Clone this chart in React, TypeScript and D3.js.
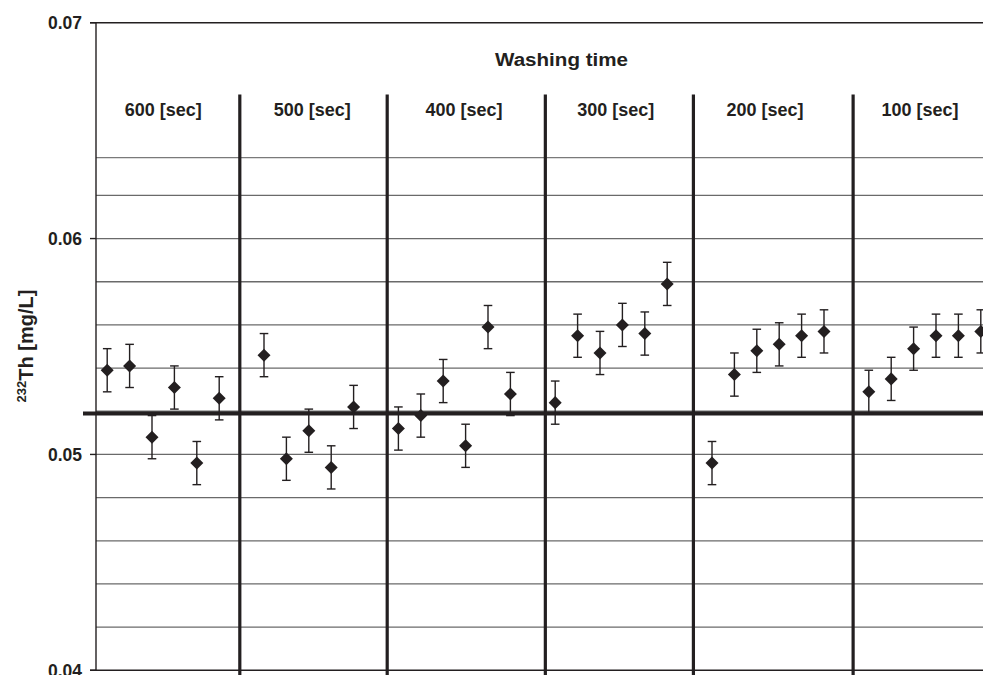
import React from "react";
import * as d3 from "d3";

// Measured 232Th concentrations, one array per washing time
const groupLabels = ["600 [sec]", "500 [sec]", "400 [sec]", "300 [sec]", "200 [sec]", "100 [sec]"];
const th600 = [0.0539, 0.0541, 0.0508, 0.0531, 0.0496, 0.0526];
const th500 = [0.0546, 0.0498, 0.0511, 0.0494, 0.0522];
const th400 = [0.0512, 0.0518, 0.0534, 0.0504, 0.0559, 0.0528];
const th300 = [0.0524, 0.0555, 0.0547, 0.0560, 0.0556, 0.0579];
const th200 = [0.0496, 0.0537, 0.0548, 0.0551, 0.0555, 0.0557];
const th100 = [0.0529, 0.0535, 0.0549, 0.0555, 0.0555, 0.0557];
const seriesByGroup = [th600, th500, th400, th300, th200, th100];
// first sample slot of each washing-time block
const groupStart = [0, 7, 13, 20, 27, 34];
const errorHalf = 0.001;
const referenceValue = 0.0519;
const yTicks = [0.04, 0.05, 0.06, 0.07];
const gridValues = [0.042, 0.044, 0.046, 0.048, 0.05, 0.052, 0.054, 0.056, 0.058, 0.06, 0.062];

// layout of the header/separators in slot units
const separatorSlots = [5.92, 12.5, 19.56, 26.17, 33.3];
const labelSlots = [2.5, 9.15, 15.93, 22.7, 29.37, 36.29];

const W = 983;
const H = 675;
const INK = "#231f20";
const FONT = "'Liberation Sans', Arial, Helvetica, sans-serif";

export default function App() {
  const x = d3.scaleLinear().domain([-0.5, 39.5]).range([96, 992]);
  const y = d3.scaleLinear().domain([0.04, 0.07]).range([670.3, 22.7]);

  const points = seriesByGroup.flatMap((vals, g) =>
    vals.map((v, k) => ({ slot: groupStart[g] + k, v }))
  );

  const diamond = d3.symbol().type(d3.symbolDiamond2).size(108)();

  const headerBottom = y(0.06375);
  const sepTop = y(0.06667);
  const right = x(39.5);

  return (
    <svg
      width={W}
      height={H}
      style={{ position: "absolute", left: 0, top: 0, background: "#fff" }}
      fontFamily={FONT}
    >
      {/* grid */}
      {gridValues.map((g) => (
        <line key={g} x1={x(-0.5)} x2={right} y1={y(g)} y2={y(g)} stroke="#6a6a6a" strokeWidth={1.3} />
      ))}
      <line x1={x(-0.5)} x2={right} y1={headerBottom} y2={headerBottom} stroke="#7a7a7a" strokeWidth={1.3} />

      {/* frame */}
      <line x1={90} x2={right} y1={y(0.07)} y2={y(0.07)} stroke={INK} strokeWidth={1.4} />
      <line x1={90} x2={right} y1={y(0.04)} y2={y(0.04)} stroke={INK} strokeWidth={1.4} />
      <line x1={x(-0.5)} x2={x(-0.5)} y1={y(0.07)} y2={y(0.04)} stroke={INK} strokeWidth={1.4} />
      {yTicks.map((t) => (
        <g key={t}>
          <line x1={90} x2={x(-0.5)} y1={y(t)} y2={y(t)} stroke={INK} strokeWidth={1.4} />
          <text x={82} y={y(t)} dy="0.36em" textAnchor="end" fontSize={17.5} fontWeight="bold" fill={INK}>
            {d3.format(".2f")(t)}
          </text>
        </g>
      ))}

      {/* separators between washing-time blocks */}
      {separatorSlots.map((s) => (
        <line key={s} x1={x(s)} x2={x(s)} y1={sepTop} y2={H} stroke={INK} strokeWidth={3.2} />
      ))}

      {/* reference level */}
      <line x1={83} x2={right} y1={y(referenceValue)} y2={y(referenceValue)} stroke={INK} strokeWidth={4} />

      {/* header */}
      <text
        x={561.5}
        y={66}
        textAnchor="middle"
        fontSize={18}
        textLength={133}
        lengthAdjust="spacingAndGlyphs"
        fontWeight="bold"
        fill={INK}
      >
        Washing time
      </text>
      {groupLabels.map((l, i) => (
        <text key={l} x={x(labelSlots[i])} y={116} textAnchor="middle" fontSize={18} fontWeight="bold" fill={INK}>
          {l}
        </text>
      ))}

      {/* error bars and markers */}
      {points.map((p, i) => {
        const cx = x(p.slot);
        const yt = y(p.v + errorHalf);
        const yb = y(p.v - errorHalf);
        return (
          <g key={i} stroke={INK} strokeWidth={1.4}>
            <line x1={cx} x2={cx} y1={yt} y2={yb} />
            <line x1={cx - 4.3} x2={cx + 4.3} y1={yt} y2={yt} />
            <line x1={cx - 4.3} x2={cx + 4.3} y1={yb} y2={yb} />
            <path d={diamond} transform={`translate(${cx},${y(p.v)})`} fill={INK} stroke="none" />
          </g>
        );
      })}

      {/* y axis title */}
      <text
        transform={`translate(33,346) rotate(-90)`}
        textAnchor="middle"
        fontSize={20}
        fontWeight="bold"
        fill={INK}
      >
        <tspan fontSize={13} dy="-7">232</tspan>
        <tspan dy="7">Th [mg/L]</tspan>
      </text>
    </svg>
  );
}
